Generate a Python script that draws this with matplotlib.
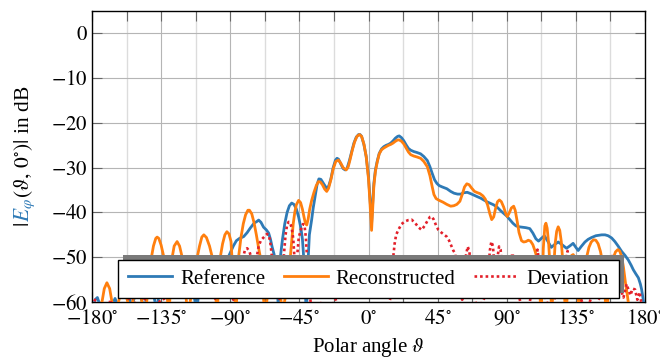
import numpy as np
import matplotlib
matplotlib.use("Agg")
import matplotlib.pyplot as plt
from matplotlib.patches import Rectangle
from matplotlib.ticker import MultipleLocator, FuncFormatter

plt.rcParams["font.family"] = ["Liberation Serif", "DejaVu Serif"]
plt.rcParams["mathtext.fontset"] = "stix"
plt.rcParams["font.size"] = 15

# (polar angle in deg, |E_phi| in dB)
ref_pts = [
    (-180, -62), (-178, -59.5), (-176.5, -59), (-175, -60.5), (-173, -66), (-168, -64),
    (-166.5, -60.5), (-165, -59.2), (-163.5, -60.5), (-160, -63), (-157, -61), (-155.5, -59.3),
    (-154, -61), (-150, -56), (-146, -62), (-142, -54), (-138, -62), (-134, -53), (-130, -60),
    (-126, -52.5), (-121, -58), (-116, -53), (-112, -62), (-108, -52), (-103, -57), (-98, -51.5),
    (-95, -52), (-92, -50.5), (-90, -49), (-88, -47.5), (-86, -46.3), (-84, -45.8), (-81.3, -45.4),
    (-79, -44.5), (-77, -43.5), (-74.5, -42.4), (-72.6, -42), (-71.5, -41.7), (-70, -42.2),
    (-68.3, -43.3), (-66.5, -43.9), (-65, -44.6), (-63.8, -46), (-62.8, -47.6), (-61.5, -49.3),
    (-60.5, -51), (-59.5, -55), (-58.8, -61), (-58, -55), (-57.4, -50), (-56, -46), (-54.5, -42.5),
    (-53, -40), (-51.5, -38.5), (-50, -37.9), (-48.5, -38.2), (-47, -39.2), (-45.5, -41),
    (-44, -43.5), (-43, -46), (-42.2, -50), (-41.3, -55), (-40.5, -64), (-39.5, -52), (-38.5, -45),
    (-37, -41.6), (-36, -39), (-34.8, -36.5), (-33.5, -33.8), (-32.3, -32.5), (-31, -32.6),
    (-29.5, -33.4), (-27.5, -34.5), (-26, -34.2), (-24.5, -32.5), (-23, -30), (-21.5, -28.3),
    (-20.5, -27.9), (-19.5, -28.1), (-18, -29.2), (-16.5, -30.2), (-15.2, -30.5), (-14, -30.2),
    (-12.5, -28.5), (-11, -26.5), (-9.5, -24.5), (-8, -23.2), (-6.5, -22.6), (-5.5, -22.6),
    (-4.5, -23), (-3, -24.8), (-1.5, -27.5), (0, -32), (1, -37), (2, -42.5), (2.7, -38),
    (3.5, -33.5), (4.5, -30.5), (5.7, -28.5), (7, -26.8), (8.5, -25.8), (10, -25.3), (11.5, -25.0),
    (13, -24.8), (14.5, -24.5), (16, -24), (17.5, -23.4), (19, -23.0), (20, -22.9), (21.5, -23.3),
    (23, -24.0), (24.5, -24.9), (26, -25.7), (27.5, -26.1), (29.5, -26.4), (31.5, -26.6),
    (33.9, -26.9), (36, -27.5), (38.3, -28.4), (40, -29.8), (41.5, -31.3), (43, -32.7),
    (44.5, -33.5), (46, -34.0), (48, -34.3), (51, -34.7), (53.5, -35.3), (55.7, -35.7), (58, -35.9),
    (60, -35.9), (62, -35.6), (64.3, -35.5), (66.5, -35.8), (69, -36.2), (71, -36.5), (73, -36.8),
    (75, -37.2), (77, -37.6), (79, -37.9), (81.5, -38.3), (84, -38.9), (86, -39.6), (88, -40.2),
    (90, -40.8), (92, -41.6), (94, -42.4), (96, -43.0), (98, -43.2), (100, -43.3), (102.5, -43.4),
    (105, -43.6), (107, -44.6), (109, -45.9), (110.7, -46.4), (112.5, -45.8), (114.5, -45.2),
    (116.5, -46.3), (119, -47.8), (121, -47.2), (123.5, -46.6), (126, -47.2), (128.9, -48),
    (131, -47.5), (133.2, -46.9), (135, -47.8), (136.5, -48.5), (138.5, -47.6), (140.9, -46.6),
    (143, -46), (145.2, -45.6), (148, -45.2), (151.8, -45.0), (154, -45.0), (156, -45.2),
    (158.3, -45.7), (160.4, -46.5), (162.5, -47.5), (164.8, -48.7), (167, -49.6), (169.1, -50.6),
    (171, -51.8), (172.4, -52.8), (174, -53.7), (175.7, -54.6), (177, -56), (177.8, -57.2),
    (179, -59.8), (180, -62),
]

rec_pts = [
    (-180, -63), (-176, -64), (-173.5, -60), (-172, -57), (-170.3, -55.7), (-168.5, -57),
    (-167, -60), (-165.5, -64), (-160, -56), (-155, -62), (-150, -55), (-145.5, -64), (-143, -55),
    (-141.3, -50), (-140, -47.5), (-138.5, -45.8), (-137.6, -45.5), (-136.5, -45.8), (-135, -47.3),
    (-133.2, -50), (-131.5, -56), (-130, -64), (-128.7, -55), (-127.8, -50), (-126.5, -47.5),
    (-124.6, -46.5), (-123, -47.5), (-121.3, -50), (-119.5, -56), (-117.5, -64), (-115, -57),
    (-113, -52), (-111.5, -50), (-110, -47.5), (-108.5, -45.5), (-107.2, -45.0), (-105.5, -45.6),
    (-103.5, -47.5), (-101.7, -50), (-100, -55), (-98.5, -64), (-97.5, -54), (-96.5, -50),
    (-95, -47), (-93.5, -45), (-92.2, -44.3), (-90.8, -44.8), (-89.5, -46.5), (-88.9, -50),
    (-87.5, -55), (-86.3, -64), (-85.3, -54), (-84.6, -50), (-83, -45.5), (-81.5, -42.5),
    (-80, -40.5), (-78.5, -39.5), (-77.5, -39.5), (-76, -40.3), (-74.5, -42.3), (-73, -45),
    (-71.5, -48), (-70.4, -50), (-69, -55), (-67.5, -64), (-65, -56), (-62, -53), (-59, -55),
    (-56, -62), (-53.5, -58), (-52.5, -55), (-51.8, -52.5), (-50.9, -50), (-50, -46.5), (-49, -42.5),
    (-48, -40), (-47, -38.3), (-45.5, -37.3), (-44.2, -37.8), (-43, -39.3), (-42, -41),
    (-41.1, -42.4), (-40.2, -42.8), (-39.3, -41.5), (-38.3, -39.3), (-37, -37.3), (-35.5, -35.5),
    (-34, -34), (-32.6, -33.1), (-31.3, -33.2), (-30, -33.8), (-28.5, -34.8), (-27.2, -35.3),
    (-26, -34.6), (-24.5, -32.7), (-23, -30.3), (-21.3, -28.6), (-19.6, -28.3), (-18.2, -28.9),
    (-16.5, -30), (-14.5, -30.5), (-13.2, -29.8), (-12, -28.2), (-10.5, -26), (-9, -24.2),
    (-7.5, -23.0), (-5.9, -22.6), (-4.5, -23), (-3, -24.7), (-1.5, -27.5), (0, -32.5), (1, -38),
    (2, -44), (2.8, -38.5), (3.5, -34), (4.5, -30.8), (5.7, -28.7), (7, -26.9), (8.5, -26),
    (10, -25.6), (11.5, -25.3), (13, -25), (14.5, -24.8), (16, -24.5), (17.5, -24.1), (19, -23.8),
    (20, -23.8), (21.5, -24.1), (23, -24.7), (24.5, -25.6), (26, -26.5), (27.5, -27.1),
    (29.5, -27.4), (31.5, -27.6), (33.9, -27.9), (36, -28.6), (38.3, -29.8), (40, -31.8),
    (41.5, -34.3), (42.6, -36.0), (44, -36.9), (46, -37.3), (48.5, -37.7), (51, -38.2),
    (53.5, -38.6), (55.5, -38.5), (57.5, -38.2), (59.5, -37.5), (61, -36), (62.5, -34.3),
    (64, -33.6), (65.5, -33.8), (67, -34.5), (69, -35.3), (71, -35.6), (72.6, -35.8), (74.5, -36.3),
    (76, -37), (77.5, -38.3), (79, -40.3), (80.2, -41.6), (81.5, -41), (82.8, -39), (84, -37.6),
    (85.2, -37.2), (86.5, -37.6), (88, -38.8), (89.5, -40.4), (90.4, -40.9), (91.5, -40.2),
    (93, -39), (94.5, -38.6), (95.5, -39.5), (96.8, -42), (98, -44.5), (99.6, -46.3), (101, -46.6),
    (102.5, -46.5), (104, -46.2), (105.5, -46.4), (107, -47.2), (108.3, -48.5), (109.4, -49.8),
    (110.5, -52.5), (111.5, -57), (112.3, -64), (113, -57), (113.8, -48), (114.8, -43.0),
    (115.5, -42.4), (116.3, -43.5), (117.3, -47), (118.3, -53), (119.3, -64), (120.3, -54),
    (121.5, -47), (122.5, -44.2), (123.5, -43.2), (124.5, -44.0), (125.5, -46.5), (126.5, -51),
    (127.5, -58), (128.5, -64), (129.8, -56), (131, -51), (132.2, -49.6), (133.3, -49.4),
    (134.5, -50.3), (135.8, -54), (137.3, -64), (139, -56), (140.5, -52), (142, -50), (143.5, -47.8),
    (145, -46.6), (146.5, -46.1), (148, -46.2), (149.5, -47), (151, -48.7), (152.3, -51),
    (153.5, -55), (154.8, -64), (156.3, -57), (157.8, -53), (159.3, -50.2), (160.8, -48.8),
    (162.3, -48.3), (163.5, -48.6), (164.8, -49.8), (166, -52.3), (167.2, -55.5), (168.5, -58.5),
    (169.5, -61), (170.5, -65), (174, -62), (177, -65), (180, -65),
]

dev_pts = [
    (-180, -61), (-178, -59.5), (-176, -62), (-172, -65), (-168, -59.5), (-165, -63), (-160, -64),
    (-155, -58), (-150, -62), (-145, -59), (-140, -55), (-136, -60), (-132, -59), (-128, -55),
    (-124, -58), (-120, -54), (-116, -58), (-112, -52), (-110.4, -49.6), (-109, -52), (-105, -57),
    (-100, -59.3), (-96, -54), (-92, -56), (-88, -59.5), (-85, -55), (-82, -50.5), (-80.5, -48.5),
    (-79, -48), (-77.5, -48.7), (-76, -50.5), (-74.5, -54), (-73, -50.5), (-71.5, -47.5),
    (-70, -46.2), (-68, -45.5), (-66.1, -44.8), (-65, -45), (-64, -46.5), (-63, -49.5), (-62, -54),
    (-60, -58), (-58, -59.3), (-56.5, -55), (-55.2, -50), (-54, -45), (-53, -42.8), (-52, -42.1),
    (-51, -42.3), (-50, -43.5), (-49, -45.8), (-48.2, -50), (-47.3, -55), (-46.5, -50),
    (-45.4, -45.6), (-44, -43.8), (-42.7, -42.6), (-41.7, -42.8), (-40.8, -45.5), (-40, -50),
    (-39, -56), (-37, -62), (-30, -60), (-25, -62), (-21.5, -59.3), (-18, -63), (-10, -65), (0, -65),
    (10, -63), (14, -59.5), (15.3, -55), (16.1, -50), (17, -47), (18, -45), (19.4, -43.9),
    (21.5, -42.6), (23.7, -42.0), (26, -41.7), (28, -41.6), (30, -42.2), (32.5, -43.3),
    (34.6, -43.9), (36.5, -43), (38.5, -41.8), (40, -41.0), (41.1, -40.9), (42.5, -41.6),
    (44, -42.9), (45.5, -43.9), (47.5, -44.5), (49, -44.9), (50.9, -45.4), (52.5, -46.3),
    (54, -47.5), (55.2, -48.5), (56.3, -49.1), (57.5, -51.5), (59, -56), (61, -59.5), (62.5, -54),
    (63.5, -49.5), (64.6, -47.6), (65.7, -48.8), (66.8, -53), (68.5, -58), (71, -62), (74, -60),
    (76.5, -58.5), (78, -53), (79, -48.5), (80, -46.5), (81, -47.5), (82, -52), (83, -53), (84, -50),
    (85, -47.6), (86, -48.3), (87, -52), (89, -57), (91, -56), (92.5, -51), (93.7, -49.1), (95, -51),
    (97, -56), (98.5, -59.5), (101, -63), (105, -60), (108, -54), (110, -48.3), (111.5, -52),
    (113.5, -58), (115.5, -59.3), (118, -62), (121, -59.3), (124, -58), (127, -54), (129.6, -48.6),
    (131, -52), (134, -59), (136, -58), (138, -59.2), (142, -62), (146, -58), (151, -59.5),
    (154, -55), (158, -49.4), (160, -53), (163, -56), (166, -59), (168, -56), (170.5, -58.5),
    (172, -57), (173.5, -57.2), (175, -59.5), (176.5, -57.8), (178, -61), (180, -64),
]

series_names = ["Reference", "Reconstructed", "Deviation"]
BLUE = "#2e7ab6"
ORANGE = "#ff7f0e"
RED = "#e3202a"

theta_ref, ref_db = np.array(ref_pts).T
theta_rec, rec_db = np.array(rec_pts).T
theta_dev, dev_db = np.array(dev_pts).T

fig = plt.figure(figsize=(6.6, 3.58), dpi=100)
ax = fig.add_axes([92 / 660, 1 - 302 / 358, 553 / 660, 291 / 358])

ax.plot(theta_ref, ref_db, color=BLUE, lw=2.0, label=series_names[0], zorder=3)
ax.plot(theta_rec, rec_db, color=ORANGE, lw=2.0, label=series_names[1], zorder=3)
ax.plot(theta_dev, dev_db, color=RED, lw=1.9, ls=(0, (1, 1.1)), label=series_names[2], zorder=3)

ax.set_xlim(-180, 180)
ax.set_ylim(-60, 5)
ax.xaxis.set_major_locator(MultipleLocator(45))
ax.xaxis.set_minor_locator(MultipleLocator(22.5))
ax.yaxis.set_major_locator(MultipleLocator(10))
ax.xaxis.set_major_formatter(FuncFormatter(lambda v, p: f"${v:.0f}^{{\\circ}}$"))
ax.yaxis.set_major_formatter(FuncFormatter(lambda v, p: f"${v:.0f}$"))

ax.set_axisbelow(True)
ax.grid(which="major", color="#b5b5b5", lw=0.8)
ax.grid(which="minor", axis="x", color="#dcdcdc", lw=1.0)
ax.tick_params(which="both", direction="in", top=True, right=True, length=7,
               width=0.8, color="#666666", labelcolor="black")
ax.tick_params(axis="x", pad=6)
ax.tick_params(axis="y", pad=3)
for s in ax.spines.values():
    s.set_linewidth(1.0)

ax.set_xlabel("Polar angle $\\vartheta$", labelpad=5)

leg = ax.legend(loc="lower center", bbox_to_anchor=(0.5, 0.0137), ncol=3,
                fancybox=False, edgecolor="black", framealpha=1,
                handlelength=2.1, handletextpad=0.4, columnspacing=0.9,
                borderpad=0.45, borderaxespad=0)
leg.get_frame().set_linewidth(1.0)

# y label: |E_phi(theta, 0 deg)| in dB, E_phi in blue
fig.canvas.draw()
renderer = fig.canvas.get_renderer()
pieces = [("$|$", "black"), ("$E_{\\varphi}$", BLUE),
          ("$(\\vartheta,\\,0^{\\circ})|$ in dB", "black")]
texts = []
for s, c in pieces:
    t = fig.text(0, 0, s, color=c, rotation=90, rotation_mode="anchor",
                 ha="left", va="baseline", fontsize=15.5)
    texts.append(t)
lengths = [t.get_window_extent(renderer).height for t in texts]
y = (358 - 156.5) - sum(lengths) / 2
for t, h in zip(texts, lengths):
    t.set_position((29 / 660, y / 358))
    y += h

# legend drop shadow (up-right)
bb = leg.get_window_extent(renderer)
inv = ax.transAxes.inverted()
(x0, y0), (x1, y1) = inv.transform([(bb.x0 + 5, bb.y0 + 5), (bb.x1 + 5, bb.y1 + 5)])
ax.add_patch(Rectangle((x0, y0), x1 - x0, y1 - y0, transform=ax.transAxes,
                       facecolor="#7a7a7a", edgecolor="none", zorder=4.5))

fig.savefig("out.png", dpi=100)
